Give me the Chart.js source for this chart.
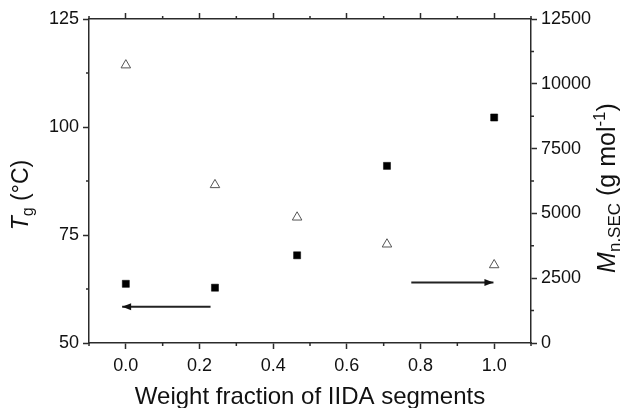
<!DOCTYPE html>
<html>
<head>
<meta charset="utf-8">
<script src="https://cdn.jsdelivr.net/npm/chart.js@4.4.1/dist/chart.umd.min.js"></script>
<style>
  html, body { margin: 0; padding: 0; background: #fff; }
  #wrap { width: 620px; height: 408px; position: relative; }
</style>
</head>
<body>
<div id="wrap"><canvas id="tgCanvas"></canvas></div>
<script>
const iidaFraction = [0, 0.242, 0.465, 0.709, 1.0];
const tgValues = [63.7, 62.8, 70.3, 91.0, 102.2];
const mnValues = [10720, 6100, 4850, 3810, 3010];

const xTickValues = [0, 0.2, 0.4, 0.6, 0.8, 1.0];
const xMinorTicks = [-0.1, 0.1, 0.3, 0.5, 0.7, 0.9, 1.1];
const tgTickValues = [50, 75, 100, 125];
const tgMinorTicks = [62.5, 87.5, 112.5];
const mnTickValues = [0, 2500, 5000, 7500, 10000, 12500];
const mnMinorTicks = [1250, 3750, 6250, 8750, 11250];

// arrows pointing at the axis each series belongs to
const tgArrowX = [0.23, -0.01];
const tgArrowY = [58.4, 58.4];
const mnArrowX = [0.775, 0.998];
const mnArrowY = [2330, 2330];

const axisColor = '#2b2b2b';
const textColor = '#111';
const fontFamily = "'Liberation Sans', Arial, sans-serif";
const tickFont = { family: fontFamily, size: 18 };

const toPoints = (xs, ys) => xs.map((x, i) => ({ x: x, y: ys[i] }));

const minorTicksPlugin = {
  id: 'minorTicks',
  afterDraw(chart) {
    const ctx = chart.ctx;
    const { top, bottom, left, right } = chart.chartArea;
    const len = 3;
    ctx.save();
    ctx.strokeStyle = axisColor;
    ctx.lineWidth = 1.5;
    ctx.beginPath();
    xMinorTicks.forEach(v => {
      const px = chart.scales.x.getPixelForValue(v);
      ctx.moveTo(px, bottom); ctx.lineTo(px, bottom + len);
      ctx.moveTo(px, top); ctx.lineTo(px, top - len);
    });
    tgMinorTicks.forEach(v => {
      const py = chart.scales.y.getPixelForValue(v);
      ctx.moveTo(left, py); ctx.lineTo(left - len, py);
    });
    mnMinorTicks.forEach(v => {
      const py = chart.scales.y2.getPixelForValue(v);
      ctx.moveTo(right, py); ctx.lineTo(right + len, py);
    });
    ctx.stroke();
    ctx.restore();
  }
};

const arrowHeadPlugin = {
  id: 'arrowHeads',
  afterDatasetsDraw(chart) {
    const ctx = chart.ctx;
    chart.data.datasets.forEach((ds, i) => {
      if (!ds.arrow) return;
      const pts = chart.getDatasetMeta(i).data;
      const a = pts[pts.length - 2], b = pts[pts.length - 1];
      const ang = Math.atan2(b.y - a.y, b.x - a.x);
      const L = 9, W = 3.5;
      ctx.save();
      ctx.translate(b.x, b.y);
      ctx.rotate(ang);
      ctx.fillStyle = '#111';
      ctx.beginPath();
      ctx.moveTo(0, 0);
      ctx.lineTo(-L, -W);
      ctx.lineTo(-L, W);
      ctx.closePath();
      ctx.fill();
      ctx.restore();
    });
  }
};

function richWidth(ctx, parts) {
  let w = 0;
  parts.forEach(p => { ctx.font = p.font; w += ctx.measureText(p.text).width; });
  return w;
}
function drawRich(ctx, parts, x) {
  parts.forEach(p => {
    ctx.font = p.font;
    ctx.fillText(p.text, x, p.dy || 0);
    x += ctx.measureText(p.text).width;
  });
}

const axisTitlesPlugin = {
  id: 'axisTitles',
  afterDraw(chart) {
    const ctx = chart.ctx;
    const { left, right } = chart.chartArea;
    ctx.save();
    ctx.fillStyle = textColor;
    ctx.textBaseline = 'alphabetic';
    ctx.textAlign = 'left';

    // bottom title
    ctx.font = `24px ${fontFamily}`;
    const xt = 'Weight fraction of IIDA segments';
    const xw = ctx.measureText(xt).width;
    ctx.fillText(xt, (left + right) / 2 - xw / 2, 404);

    // left title
    const tgParts = [
      { text: 'T', font: `italic 23px ${fontFamily}` },
      { text: 'g', font: `16px ${fontFamily}`, dy: 5 },
      { text: ' (°C)', font: `23px ${fontFamily}` }
    ];
    ctx.save();
    ctx.translate(28, 195);
    ctx.rotate(-Math.PI / 2);
    drawRich(ctx, tgParts, -richWidth(ctx, tgParts) / 2);
    ctx.restore();

    // right title
    const mnParts = [
      { text: 'M', font: `italic 25px ${fontFamily}` },
      { text: 'n,SEC', font: `17px ${fontFamily}`, dy: 5 },
      { text: ' (g mol', font: `25px ${fontFamily}` },
      { text: '-1', font: `17px ${fontFamily}`, dy: -10 },
      { text: ')', font: `25px ${fontFamily}` }
    ];
    ctx.save();
    ctx.translate(615, 188);
    ctx.rotate(-Math.PI / 2);
    drawRich(ctx, mnParts, -richWidth(ctx, mnParts) / 2);
    ctx.restore();

    ctx.restore();
  }
};

const gridOpts = {
  drawOnChartArea: false,
  tickLength: 6,
  tickColor: axisColor,
  tickWidth: 1.5
};
const borderOpts = { color: axisColor, width: 1.5 };

const tgCanvas = document.getElementById('tgCanvas');
new Chart(tgCanvas, {
  type: 'scatter',
  data: {
    datasets: [
      {
        label: 'Tg',
        data: toPoints(iidaFraction, tgValues),
        yAxisID: 'y',
        pointStyle: 'rect',
        radius: 5,
        backgroundColor: '#000',
        borderColor: '#000',
        borderWidth: 0.5
      },
      {
        label: 'Mn,SEC',
        data: toPoints(iidaFraction, mnValues),
        yAxisID: 'y2',
        pointStyle: 'triangle',
        radius: 5.5,
        backgroundColor: 'rgba(255,255,255,0)',
        borderColor: '#555',
        borderWidth: 1
      },
      {
        label: 'tg arrow',
        data: toPoints(tgArrowX, tgArrowY),
        yAxisID: 'y',
        showLine: true,
        arrow: true,
        radius: 0,
        borderColor: '#222',
        borderWidth: 2
      },
      {
        label: 'mn arrow',
        data: toPoints(mnArrowX, mnArrowY),
        yAxisID: 'y2',
        showLine: true,
        arrow: true,
        radius: 0,
        borderColor: '#222',
        borderWidth: 2
      }
    ]
  },
  options: {
    responsive: true,
    maintainAspectRatio: false,
    animation: false,
    devicePixelRatio: 1,
    layout: { padding: 0 },
    plugins: {
      legend: { display: false },
      tooltip: { enabled: false }
    },
    scales: {
      x: {
        type: 'linear',
        position: 'bottom',
        min: -0.1,
        max: 1.1,
        afterBuildTicks: s => { s.ticks = xTickValues.map(v => ({ value: v })); },
        afterFit: s => { s.height = 65; },
        border: borderOpts,
        grid: gridOpts,
        ticks: {
          font: tickFont, color: textColor, padding: 6, maxRotation: 0, autoSkip: false,
          callback: v => Number(v).toFixed(1)
        }
      },
      xTop: {
        type: 'linear',
        position: 'top',
        min: -0.1,
        max: 1.1,
        afterBuildTicks: s => { s.ticks = xTickValues.map(v => ({ value: v })); },
        afterFit: s => { s.height = 19; },
        border: borderOpts,
        grid: gridOpts,
        ticks: { display: false }
      },
      y: {
        type: 'linear',
        position: 'left',
        min: 50,
        max: 125,
        afterBuildTicks: s => { s.ticks = tgTickValues.map(v => ({ value: v })); },
        afterFit: s => { s.width = 89; },
        border: borderOpts,
        grid: gridOpts,
        ticks: { font: tickFont, color: textColor, padding: 4, callback: v => String(v) }
      },
      y2: {
        type: 'linear',
        position: 'right',
        min: 0,
        max: 12500,
        afterBuildTicks: s => { s.ticks = mnTickValues.map(v => ({ value: v })); },
        afterFit: s => { s.width = 89; },
        border: borderOpts,
        grid: gridOpts,
        ticks: { font: tickFont, color: textColor, padding: 4, callback: v => String(v) }
      }
    }
  },
  plugins: [minorTicksPlugin, arrowHeadPlugin, axisTitlesPlugin]
});
</script>
</body>
</html>
